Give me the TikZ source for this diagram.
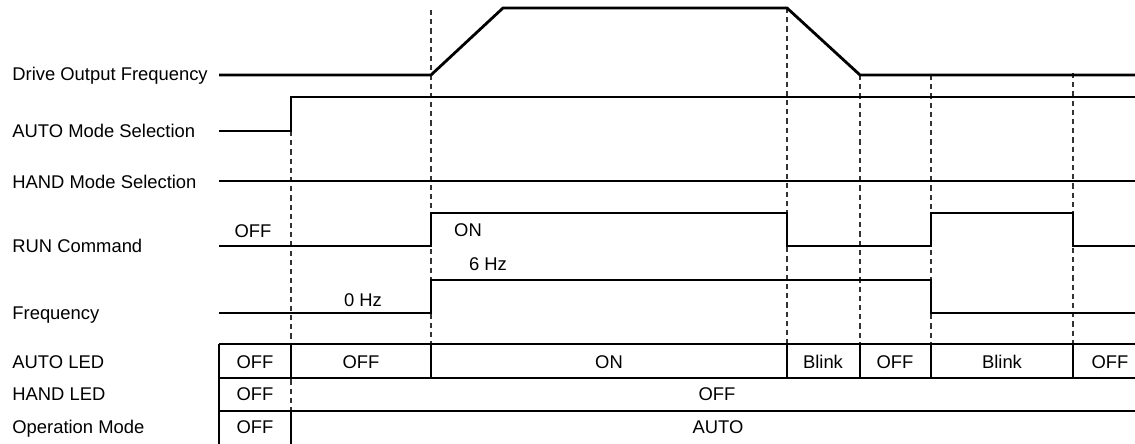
\documentclass[tikz,border=0pt]{standalone}
\usepackage{fontspec}
\setmainfont{Liberation Sans}
\usetikzlibrary{positioning,calc}

\begin{document}
\begin{tikzpicture}[
  x=0.5pt, y=-0.5pt,
  font=\fontsize{9.2}{11}\selectfont,
  sig/.style={line width=1.4pt, line join=miter},
  grid/.style={line width=0.7pt},
  guide/.style={line width=0.55pt, black!80, dash pattern=on 2.6pt off 2pt},
  lbl/.style={anchor=base west, inner sep=0pt},
  txt/.style={anchor=base, inner sep=0pt}
]
\useasboundingbox (0,0) rectangle (1135,444);

\node[lbl] (dof) at (12,81) {Drive Output Frequency};
\node[lbl] (ams) at (12,138) {AUTO Mode Selection};
\node[lbl] (hms) at (12,188) {HAND Mode Selection};
\node[lbl] (run) at (12,252) {RUN Command};
\node[lbl] (frq) at (12,319) {Frequency};
\node[lbl] (aled) at (12,368) {AUTO LED};
\node[lbl] (hled) at (12,400) {HAND LED};
\node[lbl] (opm) at (12,433) {Operation Mode};

\draw[guide] (291,131) -- (291,444);
\foreach \x/\y in {431/10,787/8,860/75,931/75,1073/73}
  \draw[guide] (\x,\y) -- (\x,344);

\draw[sig] (219,75) -- (431,75) -- (503,8) -- (787,8) -- (860,75) -- (1135,75);
\draw[sig] (219,131) -- (291,131) -- (291,97) -- (1135,97);
\draw[sig] (219,181) -- (1135,181);
\draw[sig] (219,246) -- (431,246) -- (431,213) -- (787,213) -- (787,246)
  -- (931,246) -- (931,213) -- (1073,213) -- (1073,246) -- (1135,246);
\draw[sig] (219,313) -- (431,313) -- (431,280) -- (931,280) -- (931,313) -- (1135,313);

\node[txt] (runoff) at (253,237) {OFF};
\node[txt] (runon) at (468,236) {ON};
\node[txt] (f6) at (488,270) {6 Hz};
\node[txt] (f0) at (363,306) {0 Hz};

\foreach \y in {344,378,411}
  \draw[grid] (219,\y) -- (1135,\y);
\draw[grid] (219,344) -- (219,444);
\foreach \x in {291,431,787,860,931,1073}
  \draw[grid] (\x,344) -- (\x,378);
\draw[grid] (291,411) -- (291,444);

\node[txt] (a1) at (255,368) {OFF};
\node[txt] (a2) at (361,368) {OFF};
\node[txt] (a3) at (609,368) {ON};
\node[txt] (a4) at (823,368) {Blink};
\node[txt] (a5) at (895,368) {OFF};
\node[txt] (a6) at (1002,368) {Blink};
\node[txt] (a7) at (1110,368) {OFF};
\node[txt] (h1) at (255,400) {OFF};
\node[txt] (h2) at (717,400) {OFF};
\node[txt] (o1) at (255,433) {OFF};
\node[txt] (o2) at (718,433) {AUTO};
\end{tikzpicture}
\end{document}
